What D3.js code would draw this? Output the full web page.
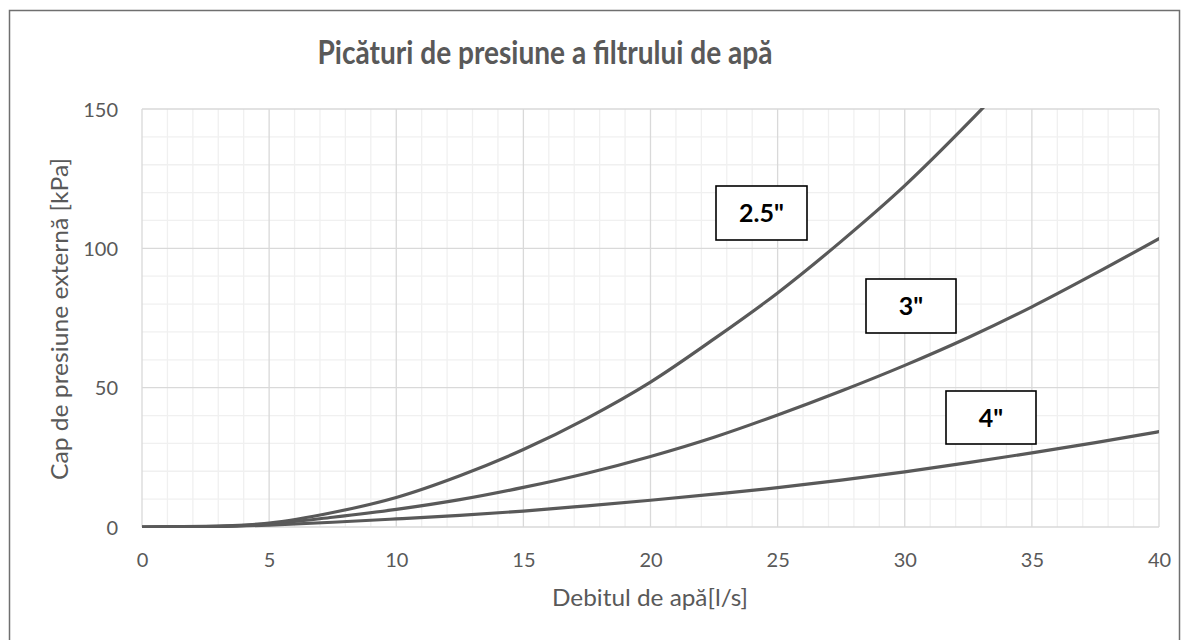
<!DOCTYPE html>
<html><head><meta charset="utf-8">
<script src="https://cdn.jsdelivr.net/npm/d3@7"></script>
<style>body{margin:0;background:#fff}svg{display:block}</style>
</head><body><svg id="c" width="1189" height="640"></svg>
<script>
const title = "Picături de presiune a filtrului de apă";
const xTitle = "Debitul de apă[l/s]";
const yTitle = "Cap de presiune externă [kPa]";
const xTicks = [0,5,10,15,20,25,30,35,40];
const yTicks = [0,50,100,150];
const flow = [0,2.5,5,7.5,10,12.5,15,17.5,20,22.5,25,27.5,30,32.5,35];
const flow4 = [0,2.5,5,7.5,10,12.5,15,17.5,20,22.5,25,27.5,30,32.5,35,37.5,40];
const s25 = [0,0.2,1.4,5.2,10.6,18.4,27.8,39,52,67.5,84,102.5,122.5,145,169];
const s3 = [0,0.15,1.1,3.5,6.3,9.8,14.2,19.3,25.3,32.2,40.2,48.8,58,68,79,91,103.5];
const s4 = [0,0.1,0.7,1.7,2.9,4.2,5.7,7.6,9.6,11.8,14.1,16.8,19.8,23.1,26.6,30.3,34.2];
const series = [
  {name:'2.5"', x:flow, y:s25},
  {name:'3"', x:flow4, y:s3},
  {name:'4"', x:flow4, y:s4}
];
const labels = [
  {text:'2.5"', box:[716,186,91,54]},
  {text:'3"', box:[866,279,90,54]},
  {text:'4"', box:[946,391,90,53]}
];

const svg = d3.select('#c');
const L=142,R=1159,T=109,B=527;
const x = d3.scaleLinear().domain([0,40]).range([L,R]);
const y = d3.scaleLinear().domain([0,150]).range([B,T]);
const font = 'Lato, "Open Sans", sans-serif';

svg.append('rect').attr('x',9.5).attr('y',10.5).attr('width',1170).attr('height',640)
  .attr('fill','#fff').attr('stroke','#6f6f6f').attr('stroke-width',1.5);

const g = svg.append('g');
g.selectAll('.vx').data(d3.range(0,41,1).filter(v=>v%5)).join('line')
  .attr('x1',d=>x(d)).attr('x2',d=>x(d)).attr('y1',T).attr('y2',B)
  .attr('stroke','#f0f0f0').attr('stroke-width',1.3);
g.selectAll('.hy').data(d3.range(0,151,10).filter(v=>v%50)).join('line')
  .attr('y1',d=>y(d)).attr('y2',d=>y(d)).attr('x1',L).attr('x2',R)
  .attr('stroke','#f0f0f0').attr('stroke-width',1.3);
g.selectAll('.vX').data(xTicks).join('line')
  .attr('x1',d=>x(d)).attr('x2',d=>x(d)).attr('y1',T).attr('y2',B)
  .attr('stroke','#d9d9d9').attr('stroke-width',1.3);
g.selectAll('.hY').data(yTicks).join('line')
  .attr('y1',d=>y(d)).attr('y2',d=>y(d)).attr('x1',L).attr('x2',R)
  .attr('stroke','#d9d9d9').attr('stroke-width',1.3);

const xAxis = d3.axisBottom(x).tickValues(xTicks).tickSize(0).tickPadding(0);
const ax = svg.append('g').attr('transform',`translate(0,${B})`).call(xAxis);
ax.select('.domain').remove();
ax.selectAll('text').attr('dy',null).attr('y',40).attr('font-family',font).attr('font-size',20).attr('fill','#595959');
const yAxis = d3.axisLeft(y).tickValues(yTicks).tickSize(0).tickPadding(0);
const ay = svg.append('g').attr('transform',`translate(118,0)`).call(yAxis);
ay.select('.domain').remove();
ay.selectAll('text').attr('dy','0.36em').attr('x',0).attr('font-family',font).attr('font-size',20).attr('fill','#595959');

svg.append('clipPath').attr('id','pc').append('rect').attr('x',L).attr('y',T-1).attr('width',R-L).attr('height',B-T+2);
const line = d3.line().curve(d3.curveMonotoneX);
svg.append('g').attr('clip-path','url(#pc)').selectAll('path').data(series).join('path')
  .attr('d',s=>line(s.x.map((v,i)=>[x(v),y(s.y[i])])))
  .attr('fill','none').attr('stroke','#595959').attr('stroke-width',3.2).attr('stroke-linecap','round');

const lb = svg.append('g').selectAll('g').data(labels).join('g');
lb.append('rect').attr('x',d=>d.box[0]).attr('y',d=>d.box[1]).attr('width',d=>d.box[2]).attr('height',d=>d.box[3])
  .attr('fill','#fff').attr('stroke','#000').attr('stroke-width',1.6);
lb.append('text').attr('x',d=>d.box[0]+d.box[2]/2).attr('y',d=>d.box[1]+d.box[3]/2).attr('dy','0.36em')
  .attr('text-anchor','middle').attr('font-family',font).attr('font-weight',700).attr('font-size',25).attr('fill','#000')
  .text(d=>d.text);

svg.append('text').attr('x',545).attr('y',64).attr('text-anchor','middle').attr('font-family',font)
  .attr('font-weight',700).attr('font-size',32).attr('textLength',455).attr('lengthAdjust','spacingAndGlyphs')
  .attr('fill','#595959').text(title);
svg.append('text').attr('x',650).attr('y',606).attr('text-anchor','middle').attr('font-family',font)
  .attr('font-size',23).attr('textLength',196).attr('lengthAdjust','spacingAndGlyphs')
  .attr('fill','#595959').text(xTitle);
svg.append('text').attr('transform','translate(68,319) rotate(-90)').attr('text-anchor','middle').attr('font-family',font)
  .attr('font-size',23).attr('textLength',322).attr('lengthAdjust','spacingAndGlyphs')
  .attr('fill','#595959').text(yTitle);
</script></body></html>
